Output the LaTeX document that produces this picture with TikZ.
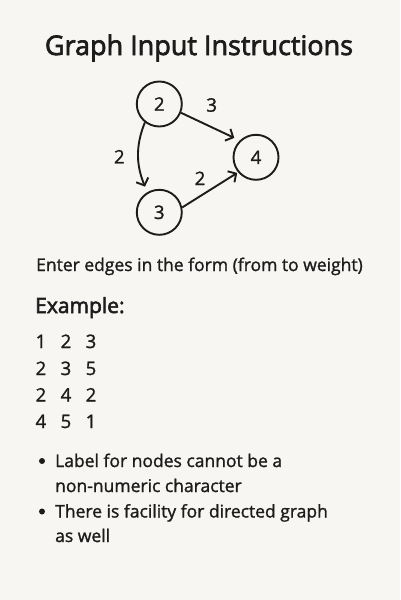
\documentclass[tikz,border=0pt]{standalone}
\usepackage{fontspec}
\setmainfont{Open Sans}[FakeBold=1.3]
\newfontfamily\medfont{Open Sans}[FakeBold=2.6]
\usetikzlibrary{arrows.meta}
\definecolor{bg}{HTML}{F7F6F3}
\definecolor{ink}{HTML}{1C1C1C}
\begin{document}
\begin{tikzpicture}[x=1pt,y=1pt,
  vert/.style={circle, draw=ink, line width=1.9pt, minimum size=45pt, inner sep=0pt,
    text=ink, font=\fontsize{18.6}{20}\selectfont},
  wlabel/.style={text=ink, inner sep=0pt, font=\fontsize{18.6}{20}\selectfont},
  edgearrow/.style={draw=ink, line width=1.9pt,
    -{Straight Barb[length=6pt,width=13pt,line width=1.9pt]}},
  txt/.style={anchor=base west, inner sep=0pt, text=ink, font=\fontsize{17.5}{20}\selectfont},
  dot/.style={circle, fill=ink, inner sep=0pt, minimum size=6pt}]
\fill[bg] (0,0) rectangle (400,-600);
\useasboundingbox (0,0) rectangle (400,-600);

\node[anchor=base, inner sep=0pt, text=ink, font=\medfont\fontsize{27}{30}\selectfont]
  (title) at (199,-55) {Graph Input Instructions};

% graph
\node[vert] (n2) at (159.3,-104) {2};
\node[vert] (n3) at (159.3,-212.3) {3};
\node[vert] (n4) at (256,-157.3) {4};

\draw[edgearrow, shorten >=6pt] (n2.-22) -- (n4.134);
\draw[edgearrow, shorten >=1pt] (n3.12) -- (n4.220);
\draw[edgearrow, shorten >=6pt] (n2.232) to[out=248,in=112] (n3.121);

\node[wlabel] (w24) at (211.7,-105) {3};
\node[wlabel] (w23) at (119.3,-156.7) {2};
\node[wlabel] (w34) at (200,-178.3) {2};

% text
\node[txt] (enter) at (36,-271) {Enter edges in the form (from to weight)};
\node[txt, font=\medfont\fontsize{21}{24}\selectfont] (example) at (35,-313) {Example:};

\node[txt, font=\fontsize{18.6}{20}\selectfont] (r1) at (35.4,-348) {1\hspace{14.4pt}2\hspace{14.4pt}3};
\node[txt, font=\fontsize{18.6}{20}\selectfont] (r2) at (35.4,-375) {2\hspace{14.4pt}3\hspace{14.4pt}5};
\node[txt, font=\fontsize{18.6}{20}\selectfont] (r3) at (35.4,-401.5) {2\hspace{14.4pt}4\hspace{14.4pt}2};
\node[txt, font=\fontsize{18.6}{20}\selectfont] (r4) at (35.4,-428) {4\hspace{14.4pt}5\hspace{14.4pt}1};

\node[dot] (b1) at (42,-461) {};
\node[txt] (l1) at (55,-467) {Label for nodes cannot be a};
\node[txt] (l2) at (55,-492) {non-numeric character};
\node[dot] (b2) at (42,-511.5) {};
\node[txt] (l3) at (55,-517.5) {There is facility for directed graph};
\node[txt] (l4) at (55,-542) {as well};
\end{tikzpicture}
\end{document}
